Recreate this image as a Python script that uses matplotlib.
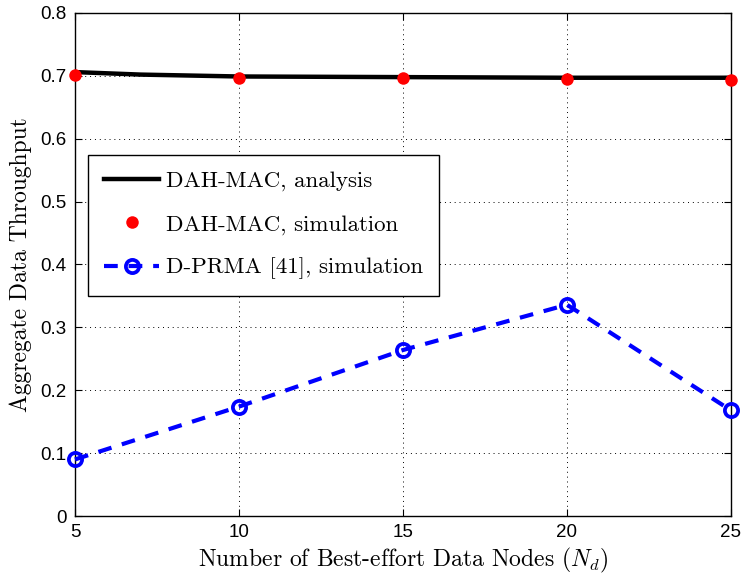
import matplotlib; matplotlib.use("Agg")
import matplotlib.pyplot as plt

plt.rcParams['mathtext.fontset'] = 'cm'

# analysis curve (DAH-MAC)
n_ana = [5, 6, 7, 8, 9, 10, 15, 20, 25]
thr_ana = [0.706, 0.704, 0.702, 0.701, 0.700, 0.699, 0.698, 0.697, 0.697]
# simulation points
n_sim = [5, 10, 15, 20, 25]
thr_dah_sim = [0.701, 0.697, 0.696, 0.695, 0.694]
thr_dprma = [0.090, 0.174, 0.264, 0.336, 0.168]

SERIF = 'cmr10'
fig = plt.figure(figsize=(7.44, 5.74), dpi=100)
ax = fig.add_axes([0.1008, 0.1010, 0.8817, 0.8764])

ax.plot(n_ana, thr_ana, color='black', lw=3.2, label='DAH-MAC, analysis', zorder=3)
ax.plot(n_sim, thr_dah_sim, ls='none', marker='o', ms=9, mew=0, color='red',
        label='DAH-MAC, simulation', clip_on=False, zorder=4)
ax.plot(n_sim, thr_dprma, color='blue', lw=3, ls=(0, (3.3, 2.6)), marker='o', ms=9.5,
        mfc='none', mew=2.7, label='D-PRMA [41], simulation', clip_on=False, zorder=3)

ax.set_xlim(5, 25); ax.set_ylim(0, 0.8)
ax.set_xticks(range(5, 26, 5))
ax.set_yticks([i/10 for i in range(9)])
ax.set_yticklabels(['0'] + ['%.1f' % (i/10) for i in range(1, 9)])
ax.tick_params(direction='in', labelsize=13.5, length=5, pad=6, top=True, right=True)
for t in ax.get_xticklabels() + ax.get_yticklabels():
    t.set_family('Liberation Sans')
ax.grid(True, ls=(0, (1, 4)), color='black', lw=0.7)
for s in ax.spines.values():
    s.set_linewidth(1.0)

ax.set_xlabel('Number of Best-effort Data Nodes ($N_d$)', family=SERIF, fontsize=17, labelpad=3)
ax.set_ylabel('Aggregate Data Throughput', family=SERIF, fontsize=17, labelpad=6)

leg = ax.legend(loc='upper left', bbox_to_anchor=(0.0198, 0.718), prop={'family': SERIF, 'size': 16.5},
                frameon=True, fancybox=False, edgecolor='black', framealpha=1,
                handlelength=2.4, borderpad=0.7, labelspacing=1.0, handletextpad=0.3,
                borderaxespad=0)
leg.get_frame().set_linewidth(1.0)

fig.savefig('out.png', dpi=100)
